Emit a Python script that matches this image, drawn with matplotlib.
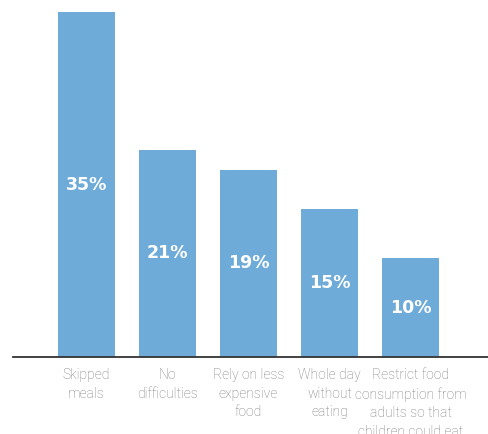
import matplotlib.pyplot as plt

categories = ["Skipped\nmeals", "No\ndifficulties", "Rely on less\nexpensive\nfood",
              "Whole day\nwithout\neating",
              "Restrict food\nconsumption from\nadults so that\nchildren could eat"]
values = [35, 21, 19, 15, 10]
value_labels = ["35%", "21%", "19%", "15%", "10%"]

bar_color = "#6fabd9"

fig = plt.figure(figsize=(4.89, 4.34), dpi=100)
ax = fig.add_axes([13 / 489, (434 - 357) / 434, 476 / 489, (357 - 12) / 434])

x = list(range(len(values)))
ax.bar(x, values, width=57 / 81, color=bar_color, zorder=2)

# value labels in the middle of each bar
for xi, v, lab in zip(x, values, value_labels):
    ax.text(xi, v / 2, lab, ha="center", va="center", color="white",
            fontsize=12.5, fontweight="bold", family="DejaVu Sans")

ax.set_xlim(-0.907, 4.969)
ax.set_ylim(0, 35)

ax.set_xticks(x)
ax.set_xticklabels(categories, fontsize=10, color="#7c7c7c", family="Roboto",
                   fontweight="light", linespacing=1.42)
ax.tick_params(axis="x", length=0, pad=8)
ax.set_yticks([])

for s in ["top", "right", "left"]:
    ax.spines[s].set_visible(False)
ax.spines["bottom"].set_color("#333333")
ax.spines["bottom"].set_linewidth(1.3)

fig.savefig("out.png", dpi=100)
